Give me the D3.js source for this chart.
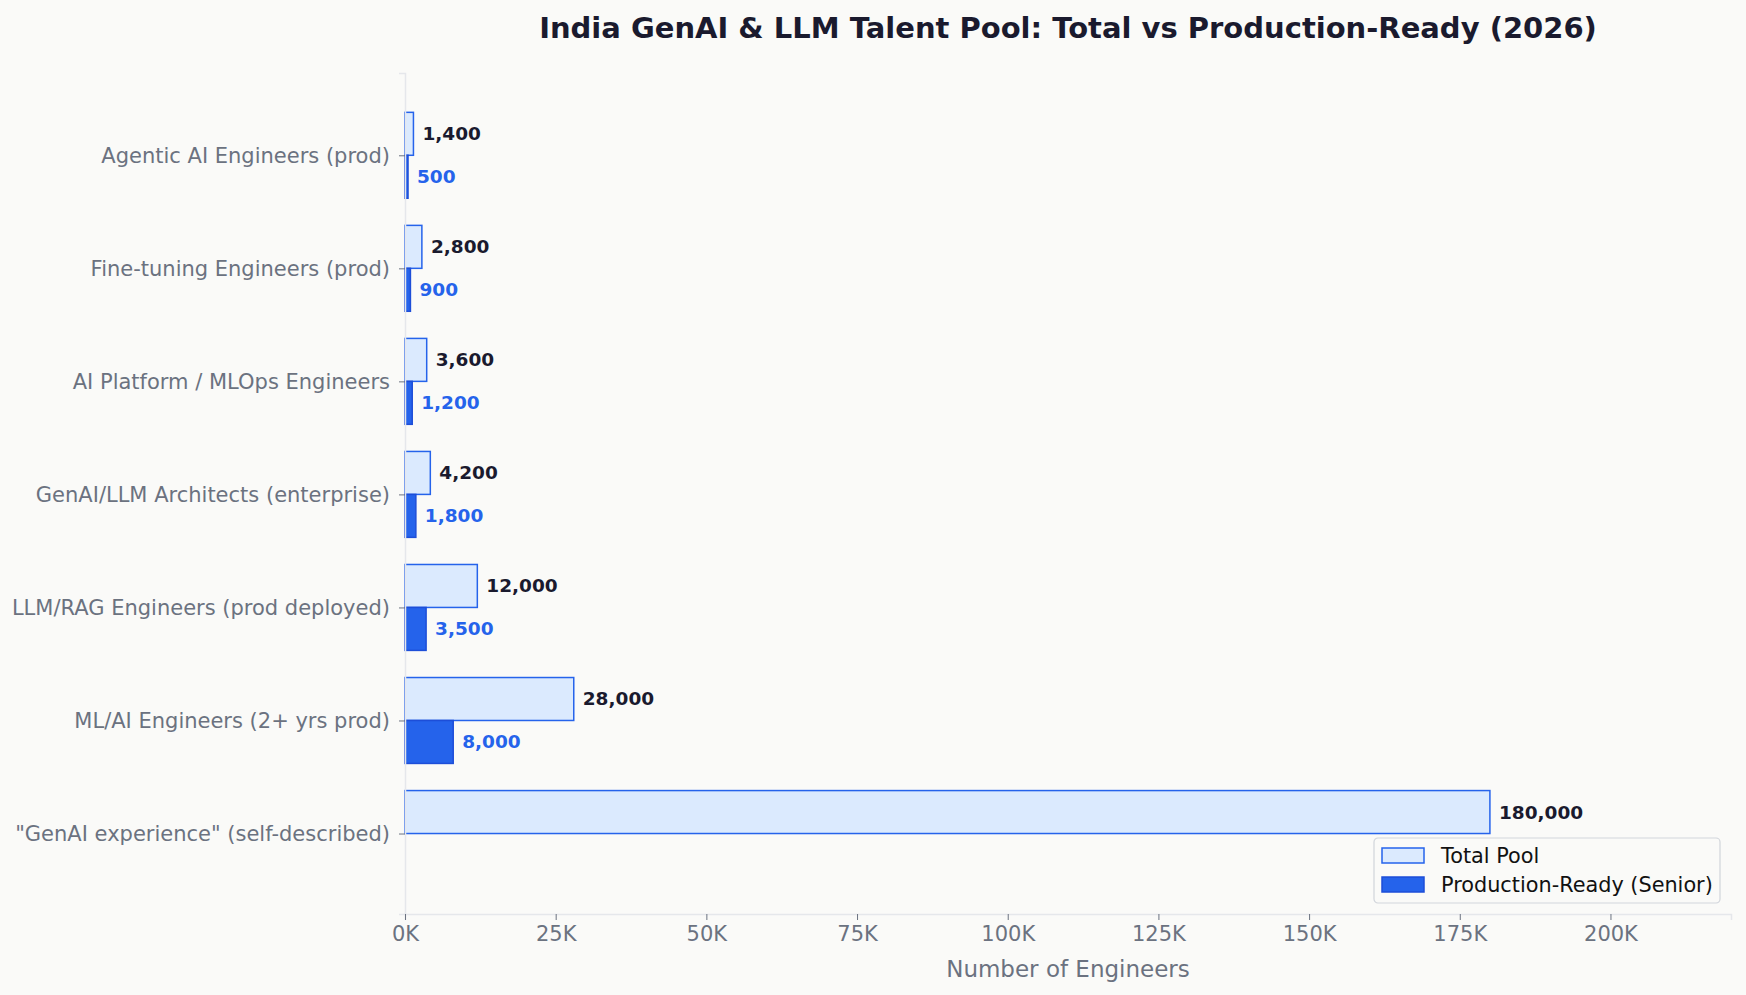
<!DOCTYPE html>
<html>
<head>
<meta charset="utf-8">
<script src="https://cdn.jsdelivr.net/npm/d3@7"></script>
<style>
  body { margin: 0; background: #fafaf8; }
  text { font-family: "DejaVu Sans", sans-serif; }
</style>
</head>
<body>
<svg id="chart" width="1746" height="995"></svg>
<script>
// roles, bottom to top (same order as the reference y axis from bottom)
const roles = [
  '"GenAI experience" (self-described)',
  'ML/AI Engineers (2+ yrs prod)',
  'LLM/RAG Engineers (prod deployed)',
  'GenAI/LLM Architects (enterprise)',
  'AI Platform / MLOps Engineers',
  'Fine-tuning Engineers (prod)',
  'Agentic AI Engineers (prod)'
];
const totalPool = [180000, 28000, 12000, 4200, 3600, 2800, 1400];
const prodReady = [0, 8000, 3500, 1800, 1200, 900, 500];
const xTicks = [0, 25000, 50000, 75000, 100000, 125000, 150000, 175000, 200000];
const seriesNames = ['Total Pool', 'Production-Ready (Senior)'];

const W = 1746, H = 995;
const m = { top: 73, right: 15, bottom: 81, left: 405 };

const svg = d3.select('#chart');
svg.append('rect').attr('width', W).attr('height', H).attr('fill', '#fafaf8');

const x = d3.scaleLinear().domain([0, 220000]).range([m.left, W - m.right]);
const y = d3.scaleLinear().domain([-0.712, 6.728]).range([H - m.bottom, m.top]);
const barH = 0.38;

// title
svg.append('text')
  .attr('x', 1068).attr('y', 38)
  .attr('text-anchor', 'middle')
  .style('font-size', '29px').style('font-weight', 'bold')
  .attr('fill', '#1a1a2e')
  .text('India GenAI & LLM Talent Pool: Total vs Production-Ready (2026)');

// total pool bars (upper half)
svg.append('g').selectAll('rect')
  .data(totalPool)
  .enter().append('rect')
  .attr('x', x(0))
  .attr('y', (d, i) => y(i + barH))
  .attr('width', d => x(d) - x(0))
  .attr('height', y(0) - y(barH))
  .attr('fill', '#dbeafe')
  .attr('stroke', '#2563eb')
  .attr('stroke-width', 1.5);

// production-ready bars (lower half)
svg.append('g').selectAll('rect')
  .data(prodReady)
  .enter().append('rect')
  .attr('x', x(0))
  .attr('y', (d, i) => y(i))
  .attr('width', d => x(d) - x(0))
  .attr('height', y(0) - y(barH))
  .attr('fill', '#2563eb')
  .attr('stroke', '#1d4ed8')
  .attr('stroke-width', 1.5);

const fmt = d3.format(',');

// value labels
svg.append('g').selectAll('text')
  .data(totalPool)
  .enter().append('text')
  .attr('x', d => x(d) + 9)
  .attr('y', (d, i) => y(i + barH / 2))
  .attr('dy', '0.35em')
  .style('font-size', '18.5px').style('font-weight', 'bold')
  .attr('fill', '#1a1a2e')
  .text(d => fmt(d));

svg.append('g').selectAll('text')
  .data(prodReady.map((v, i) => ({ v, i })).filter(d => d.v > 0))
  .enter().append('text')
  .attr('x', d => x(d.v) + 9)
  .attr('y', d => y(d.i - barH / 2))
  .attr('dy', '0.35em')
  .style('font-size', '18.5px').style('font-weight', 'bold')
  .attr('fill', '#2563eb')
  .text(d => fmt(d.v));

// y axis
const yAxis = svg.append('g')
  .attr('transform', `translate(${m.left},0)`)
  .call(d3.axisLeft(y).tickValues(d3.range(roles.length)).tickFormat(i => roles[i]).tickSize(6).tickPadding(9));
yAxis.select('.domain').attr('stroke', '#e5e7eb').attr('stroke-width', 1.5);
yAxis.selectAll('.tick line').attr('stroke', '#6b7280');
yAxis.selectAll('.tick text').style('font-size', '21px').attr('fill', '#6b7280');

// x axis
const xAxis = svg.append('g')
  .attr('transform', `translate(0,${H - m.bottom})`)
  .call(d3.axisBottom(x).tickValues(xTicks).tickFormat(d => (d / 1000) + 'K').tickSize(6).tickPadding(6));
xAxis.select('.domain').attr('stroke', '#e5e7eb').attr('stroke-width', 1.5);
xAxis.selectAll('.tick line').attr('stroke', '#6b7280');
xAxis.selectAll('.tick text').style('font-size', '21px').attr('fill', '#6b7280');

svg.append('text')
  .attr('x', (m.left + W - m.right) / 2).attr('y', 977)
  .attr('text-anchor', 'middle')
  .style('font-size', '23px').attr('fill', '#6b7280')
  .text('Number of Engineers');

// legend
const lg = svg.append('g').attr('transform', 'translate(1374,838)');
lg.append('rect').attr('width', 346).attr('height', 65).attr('rx', 4)
  .attr('fill', '#fafaf8').attr('stroke', '#d1d5db').attr('stroke-width', 1.2);
const lgStyle = [
  { fill: '#dbeafe', stroke: '#2563eb' },
  { fill: '#2563eb', stroke: '#1d4ed8' }
];
seriesNames.forEach((name, i) => {
  const row = lg.append('g').attr('transform', `translate(8,${10 + i * 29})`);
  row.append('rect').attr('width', 42).attr('height', 15)
    .attr('fill', lgStyle[i].fill).attr('stroke', lgStyle[i].stroke).attr('stroke-width', 1.5);
  row.append('text').attr('x', 59).attr('y', 8).attr('dy', '0.35em')
    .style('font-size', '20.8px').attr('fill', '#111')
    .text(name);
});
</script>
</body>
</html>
